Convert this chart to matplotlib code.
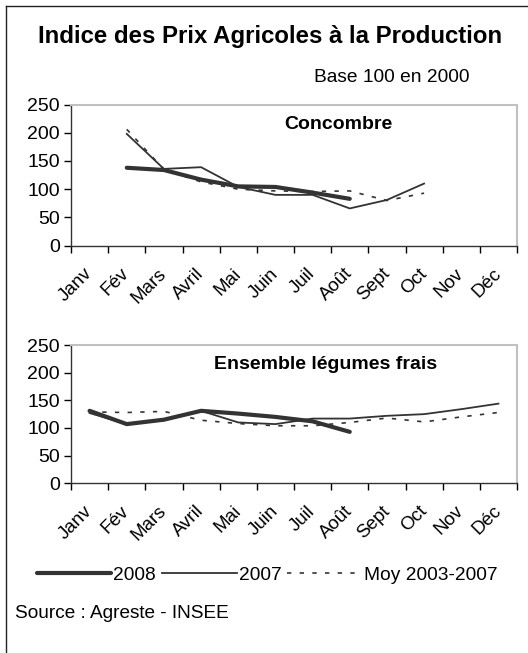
import numpy as np
import matplotlib
matplotlib.use("Agg")
import matplotlib.pyplot as plt
from matplotlib.lines import Line2D
from matplotlib.transforms import ScaledTranslation

plt.rcParams['font.family'] = ['Liberation Sans', 'DejaVu Sans']

months = ['Janv', 'Fév', 'Mars', 'Avril', 'Mai', 'Juin', 'Juil', 'Août',
          'Sept', 'Oct', 'Nov', 'Déc']
nan = np.nan
# Concombre
conc_2008 = [nan, 138, 134, 117, 105, 104, 94, 83, nan, nan, nan, nan]
conc_2007 = [nan, 198, 136, 139, 104, 90, 90, 66, 81, 110, nan, nan]
conc_moy = [nan, 206, 135, 113, 100, 97, 96, 97, 80, 93, nan, nan]
# Ensemble légumes frais
leg_2008 = [131, 107, 115, 131, 126, 120, 112, 93, nan, nan, nan, nan]
leg_2007 = [127, 107, 114, 131, 110, 107, 117, 117, 122, 125, 134, 144]
leg_moy = [129, 128, 130, 114, 108, 104, 104, 110, 118, 111, 120, 128]

title = 'Indice des Prix Agricoles à la Production'
subtitle = 'Base 100 en 2000'
panel_titles = ['Concombre', 'Ensemble légumes frais']
series_names = ['2008', '2007', 'Moy 2003-2007']
source = 'Source : Agreste - INSEE'

W, H = 528, 653
fig = plt.figure(figsize=(W / 100, H / 100), dpi=100)

def fx(px):
    return px / W

def fy(py):
    return 1 - py / H

col = '#333333'
styles = [dict(lw=3.0, color=col, solid_capstyle='round'),
          dict(lw=1.3, color=col),
          dict(lw=1.2, color=col, linestyle=(0, (2.6, 5.0)))]

def panel(top, bottom, data, ptitle, title_x):
    ax = fig.add_axes([fx(71), fy(bottom), fx(517) - fx(71), fy(top) - fy(bottom)])
    x = np.arange(len(months)) + 0.5
    handles = []
    for vals, st in zip(data, styles):
        h, = ax.plot(x, vals, **st)
        handles.append(h)
    ax.set_xlim(0, 12)
    ax.set_ylim(0, 250)
    ax.set_yticks(np.arange(0, 251, 50))
    ax.set_xticks(np.arange(13))
    ax.set_xticklabels([])
    ax.set_xticks(x, minor=True)
    ax.set_xticklabels(months, minor=True, rotation=45, ha='right',
                       rotation_mode='anchor', fontsize=13.5)
    ax.tick_params(axis='x', which='minor', length=0, pad=14)
    ax.tick_params(axis='x', which='major', length=5, direction='out', width=1)
    ax.tick_params(axis='y', length=5, direction='out', width=1, labelsize=14, pad=3)
    off = ScaledTranslation(-0.06, 0, fig.dpi_scale_trans)
    for lbl in ax.get_xticklabels(minor=True):
        lbl.set_transform(lbl.get_transform() + off)
    for s in ['top', 'right']:
        ax.spines[s].set_color('#c0c0c0')
        ax.spines[s].set_linewidth(1.5)
    for s in ['left', 'bottom']:
        ax.spines[s].set_color('#333333')
        ax.spines[s].set_linewidth(1.0)
    ax.text(title_x, 0.86, ptitle, transform=ax.transAxes, ha='center', va='center',
            fontsize=14, fontweight='bold')
    return ax, handles

ax1, handles = panel(104.5, 245.7, [conc_2008, conc_2007, conc_moy], panel_titles[0], 0.6)
ax2, _ = panel(345, 483.3, [leg_2008, leg_2007, leg_moy], panel_titles[1], 0.57)

fig.text(fx(270), fy(36), title, ha='center', va='center', fontsize=17.3, fontweight='bold')
fig.text(fx(392), fy(77), subtitle, ha='center', va='center', fontsize=13.8)

fig.legend(handles, series_names, loc='center', bbox_to_anchor=(fx(267), fy(575)),
           ncol=3, frameon=False, fontsize=13.8, handlelength=3.9,
           handletextpad=0.1, columnspacing=0.3, borderpad=0)

fig.text(fx(15), fy(614), source, ha='left', va='center', fontsize=13.7)

# outer frame (left and top edges visible)
fig.add_artist(Line2D([fx(5.5), fx(5.5)], [0, fy(6)], color='#222222', lw=1.0))
fig.add_artist(Line2D([fx(5.5), 1], [fy(6), fy(6)], color='#222222', lw=1.0))

fig.savefig('out.png', dpi=100)
